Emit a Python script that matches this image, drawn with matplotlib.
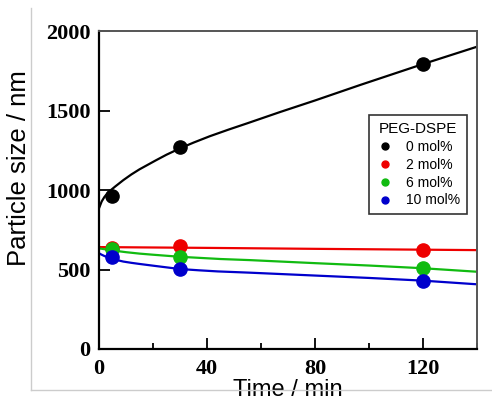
import matplotlib
matplotlib.use("Agg")
import matplotlib.pyplot as plt
from matplotlib.lines import Line2D
from matplotlib.ticker import MultipleLocator

# Measured points (Time / min, Particle size / nm)
tiempos = [5, 30, 120]
size_0 = [960, 1270, 1790]
size_2 = [633, 648, 625]
size_6 = [630, 580, 507]
size_10 = [577, 503, 430]

# Fitted curves
t_fit_0 = [0, 1, 2, 3, 4, 6, 9, 12, 15, 18, 21, 25, 30, 35, 41, 48, 55, 67, 80, 97, 120, 140]
fit_0 = [885, 928, 956, 977, 994, 1022, 1062, 1098, 1130, 1158, 1186, 1222, 1262, 1298,
         1338, 1380, 1420, 1490, 1563, 1662, 1792, 1901]
t_fit_2 = [0, 40, 80, 140]
fit_2 = [641, 636, 630, 622]
t_fit_6 = [0, 5, 10, 15, 20, 30, 45, 56, 80, 100, 120, 140]
fit_6 = [633, 620, 609, 600, 593, 580, 566, 559, 540, 525, 508, 486]
t_fit_10 = [0, 1, 2, 4, 6, 9, 12, 15, 21, 30, 37, 44, 56, 80, 100, 120, 140]
fit_10 = [602, 593, 585, 572, 562, 550, 542, 535, 522, 503, 495, 488, 480, 462, 447, 430, 407]

etiquetas = ["0 mol%", "2 mol%", "6 mol%", "10 mol%"]
colores = ["#000000", "#ee0000", "#11bb11", "#0000cc"]

SERIF = "Liberation Serif"
SANS = "Liberation Sans"

fig = plt.figure(figsize=(4.92, 4.03), dpi=100)
ax = fig.add_axes([0.2012, 0.134, 0.768, 0.789])

series = [
    (t_fit_0, fit_0, size_0),
    (t_fit_2, fit_2, size_2),
    (t_fit_6, fit_6, size_6),
    (t_fit_10, fit_10, size_10),
]
for i, ((tf, vf, pts), col) in enumerate(zip(series, colores)):
    ax.plot(tf, vf, color=col, linewidth=1.6, zorder=2 + i * 0.1, solid_joinstyle="round")
for i, ((tf, vf, pts), col) in enumerate(zip(series, colores)):
    ax.plot(tiempos, pts, "o", color=col, markersize=9.5, zorder=4 + i * 0.1)

ax.set_xlim(0, 140)
ax.set_ylim(0, 2000)
ax.xaxis.set_major_locator(MultipleLocator(40))
ax.xaxis.set_minor_locator(MultipleLocator(20))
ax.yaxis.set_major_locator(MultipleLocator(500))

ax.tick_params(axis="x", which="major", direction="in", length=8, width=1.3, pad=7)
ax.tick_params(axis="x", which="minor", direction="in", length=4, width=1.3)
ax.tick_params(axis="y", which="major", direction="in", length=8, width=1.3, pad=6)
ax.tick_params(top=False, right=False)

for lab in ax.get_xticklabels() + ax.get_yticklabels():
    lab.set_fontfamily(SERIF)
    lab.set_fontweight("bold")
    lab.set_fontsize(16)

for s in ["left", "bottom"]:
    ax.spines[s].set_color("black")
    ax.spines[s].set_linewidth(1.6)
for s in ["top", "right"]:
    ax.spines[s].set_color("#555555")
    ax.spines[s].set_linewidth(1.4)

ax.set_xlabel("Time / min", fontfamily=SANS, fontsize=17)
ax.set_ylabel("Particle size / nm", fontfamily=SANS, fontsize=18.5)
ax.xaxis.set_label_coords(0.499, -0.095)
ax.yaxis.set_label_coords(-0.18, 0.569)

handles = [
    Line2D([], [], marker="o", linestyle="none", color=c, markersize=5)
    for c in colores
]
leg = ax.legend(
    handles, etiquetas, title="PEG-DSPE",
    loc="upper left", bbox_to_anchor=(0.714, 0.736), borderaxespad=0,
    prop={"family": SANS, "size": 10}, title_fontproperties={"family": SANS, "size": 11},
    fancybox=False, framealpha=1, edgecolor="#333333",
    handlelength=1.4, handletextpad=0.8, labelspacing=0.28,
    borderpad=0.5, markerscale=1.0,
)
leg.get_frame().set_linewidth(1.2)

# light frame around the figure
fig.add_artist(Line2D([0.063, 0.063], [0.98, 0.032], transform=fig.transFigure,
                      color="#cccccc", linewidth=1))
fig.add_artist(Line2D([0.063, 1.0], [0.032, 0.032], transform=fig.transFigure,
                      color="#cccccc", linewidth=1))

fig.savefig("out.png", dpi=100)
